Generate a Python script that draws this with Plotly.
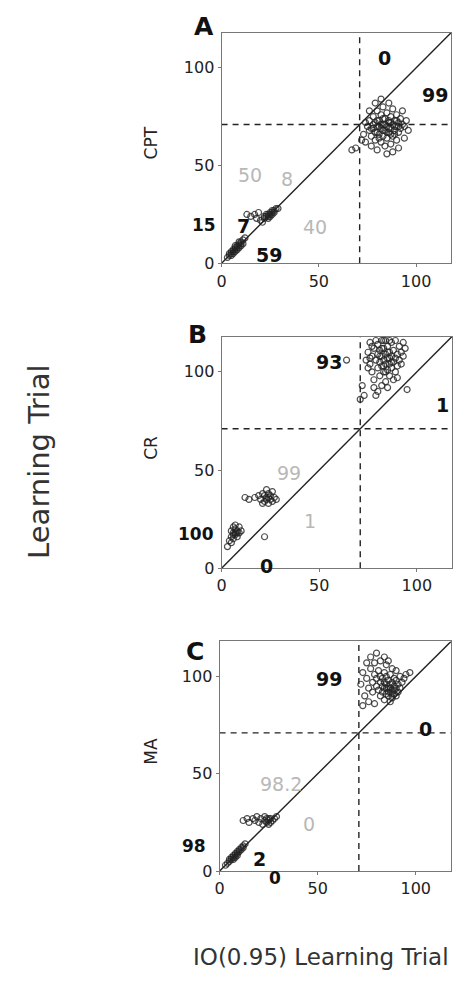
import plotly.graph_objects as go

# ---------------- data ----------------
AX_MAX = 118
THRESH = 71
tick_vals = [0, 50, 100]
tick_text = ["0", "50", "100"]

panel_letters = ["A", "B", "C"]
panel_ylabels = ["CPT", "CR", "MA"]

# Panel A (CPT)
a_big = [(73,66),(74,62),(75,70),(76,68),(76,73),(77,65),(77,60),(78,71),(78,75),(79,67),(79,63),(80,70),
         (80,78),(80,58),(81,73),(81,66),(82,69),(82,62),(82,76),(83,71),(83,65),(83,80),(84,68),(84,74),
         (84,60),(85,70),(85,77),(85,64),(86,72),(86,67),(86,82),(87,69),(87,75),(87,61),(88,71),(88,65),
         (88,79),(89,73),(89,68),(90,70),(90,76),(90,63),(91,72),(91,67),(92,74),(92,69),(93,71),(93,78),
         (94,70),(95,73),(96,68),(88,57),(91,59),(79,82),(82,84),(76,78),(74,72),(85,56),(72,63),(94,64),
         (86,73),(81,70),(83,68),(87,72),(89,66),(80,67),(84,71),(90,73),(78,69),(86,69),(67,58),(69,59),
         (77,69),(79,72),(81,64),(83,74),(85,67),(87,66),(89,70),(91,70),(80,73),(82,71)]
a_mid = [(20,22),(22,23),(23,24),(24,24),(25,25),(25,26),(26,26),(27,27),(28,28),(24,23),(26,25),(22,24),
         (21,21),(27,26),(29,28),(23,25),(18,23),(15,24),(17,25),(19,26),(13,25),(25,24),(26,27),(24,25)]
a_small = [(3,3),(4,4),(5,6),(6,5),(6,7),(7,7),(7,8),(8,8),(8,9),(9,9),(9,10),(10,10),(10,11),(11,12),
           (5,4),(7,6),(9,8),(12,13),(11,10),(8,7),(6,6),(10,9),(5,5),(7,9),(9,11),(4,5)]

# Panel B (CR)
b_big = [(75,110),(76,104),(76,115),(77,100),(77,108),(78,112),(78,96),(79,106),(79,116),(80,102),(80,109),
         (80,114),(81,98),(81,105),(81,111),(82,103),(82,108),(82,116),(83,100),(83,106),(83,112),(84,95),
         (84,104),(84,109),(84,116),(85,101),(85,107),(85,113),(86,98),(86,104),(86,110),(87,102),(87,108),
         (87,115),(88,96),(88,105),(88,111),(89,100),(89,107),(89,116),(90,103),(90,109),(91,106),(91,113),
         (92,104),(92,110),(93,108),(94,112),(78,92),(80,90),(82,93),(85,92),(79,88),(83,116),(86,116),
         (76,107),(75,102),(77,113),(93,115),(90,97),(74,106),(72,93),(73,88),(71,86),(64,106),(95,91),
         (81,108),(83,103),(85,110),(87,105),(84,100),(82,112),(86,107)]
b_mid = [(17,36),(19,37),(20,35),(21,38),(22,34),(22,37),(23,36),(24,33),(24,38),(25,35),(25,37),(26,34),
         (26,39),(27,36),(23,40),(21,33),(14,35),(12,36),(28,35),(23,35),(24,36)]
b_small = [(4,14),(5,16),(5,19),(6,15),(6,18),(6,21),(7,17),(7,20),(8,16),(8,19),(9,18),(9,21),(7,22),
           (10,19),(5,13),(3,11),(22,16),(6,17),(7,18),(8,18)]

# Panel C (MA)
c_big = [(72,96),(73,102),(74,90),(75,99),(75,107),(76,94),(77,104),(77,110),(78,97),(78,92),(79,101),
         (79,107),(80,95),(80,99),(80,112),(81,93),(81,103),(82,97),(82,100),(82,108),(83,92),(83,95),
         (83,99),(84,94),(84,97),(84,102),(85,91),(85,96),(85,100),(85,106),(86,90),(86,94),(86,98),(87,92),
         (87,96),(87,101),(88,89),(88,93),(88,97),(89,91),(89,95),(89,99),(90,90),(90,94),(90,98),(91,92),
         (91,96),(92,94),(92,100),(93,97),(94,99),(95,101),(88,104),(84,110),(86,108),(90,103),(82,90),
         (84,88),(87,87),(97,102),(76,87),(79,86),(73,85),(86,92),(88,91),(89,93),(87,94),(85,94)]
c_mid = [(12,26),(14,27),(15,25),(17,27),(18,26),(19,28),(20,25),(21,27),(22,24),(23,26),(24,25),(24,27),
         (25,26),(26,25),(26,27),(27,26),(28,27),(29,28),(25,24),(23,28),(25,27)]
c_small = [(4,4),(5,5),(6,6),(6,7),(7,7),(7,8),(8,8),(8,9),(9,9),(9,10),(10,10),(10,11),(11,11),(11,12),
           (12,12),(12,13),(5,6),(13,14),(8,7),(3,3),(7,6),(9,8)]

panel_points = [a_big + a_mid + a_small, b_big + b_mid + b_small, c_big + c_mid + c_small]

# count annotations: (text, x, y, dark?)
a_counts = [("0", 84, 105, True), ("99", 110, 86, True), ("50", 14.5, 45, False), ("8", 33.5, 43, False),
            ("40", 48, 18.5, False), ("7", 11.5, 19, True), ("59", 24.5, 4, True)]
b_counts = [("93", 55, 105, True), ("1", 113, 83, True), ("99", 34.5, 48.5, False), ("1", 45.5, 24, False),
            ("0", 23, 1, True)]
c_counts = [("99", 56, 98.5, True), ("0", 105, 73, True), ("98.2", 31.5, 44.5, False), ("0", 45.5, 24, False),
            ("2", 20.5, 6, True)]
panel_counts = [a_counts, b_counts, c_counts]

# counts printed just outside the axes: (text, x, y)
a_outside = [("15", 0, 19.5)]
b_outside = [("100", 0, 17.5)]
c_outside = [("98", 0, 13), ("0", 28, 0)]
panel_outside = [a_outside, b_outside, c_outside]

# ---------------- layout geometry / styling ----------------
W, H = 455, 986
boxes = [(219, 451, 33, 266), (219, 452, 340, 574), (217, 451, 648, 880)]  # px: left,right,top,bottom
letter_pos = [(201, 27), (195, 338), (192, 658)]
outside_shift = [[(-4, 0, "right")], [(-6, 0, "right")], [(-12, 0, "right"), (0, -7, "center")]]

fig = go.Figure()
FONT = "DejaVu Sans"
DASH = "6px,5px"

for i, (pts, counts) in enumerate(zip(panel_points, panel_counts)):
    xa = "x" if i == 0 else f"x{i+1}"
    ya = "y" if i == 0 else f"y{i+1}"
    fig.add_trace(go.Scatter(x=[0, AX_MAX], y=[0, AX_MAX], mode="lines",
                             line=dict(color="#222", width=1.4), xaxis=xa, yaxis=ya, showlegend=False,
                             hoverinfo="skip"))
    fig.add_trace(go.Scatter(x=[THRESH, THRESH], y=[0, AX_MAX], mode="lines",
                             line=dict(color="#222", width=1.4, dash=DASH), xaxis=xa, yaxis=ya,
                             showlegend=False, hoverinfo="skip"))
    fig.add_trace(go.Scatter(x=[0, AX_MAX], y=[THRESH, THRESH], mode="lines",
                             line=dict(color="#222", width=1.4, dash=DASH), xaxis=xa, yaxis=ya,
                             showlegend=False, hoverinfo="skip"))
    fig.add_trace(go.Scatter(x=[p[0] for p in pts], y=[p[1] for p in pts], mode="markers",
                             marker=dict(symbol="circle-open", size=6, color="rgba(35,35,35,0.8)",
                                         line=dict(width=1.2)),
                             xaxis=xa, yaxis=ya, showlegend=False))
    for txt, x, y, dark in counts:
        fig.add_annotation(x=x, y=y, xref=xa, yref=ya, text=f"<b>{txt}</b>" if dark else txt,
                           showarrow=False, xanchor="center", yanchor="middle",
                           font=dict(family=FONT, size=19 if dark else 19,
                                     color="#111" if dark else "#b8b8b8"))
    for (txt, x, y), (dx, dy, anc) in zip(panel_outside[i], outside_shift[i]):
        fig.add_annotation(x=x, y=y, xref=xa, yref=ya, text=f"<b>{txt}</b>", showarrow=False,
                           xanchor=anc, yanchor="middle", xshift=dx, yshift=dy,
                           font=dict(family=FONT, size=17, color="#111"))

    l, r, t, b = boxes[i]
    xdom = [l / W, r / W]
    ydom = [1 - b / H, 1 - t / H]
    axis_common = dict(range=[0, AX_MAX], tickvals=tick_vals, ticktext=tick_text, showgrid=False,
                       zeroline=False, showline=True, mirror=True, linecolor="#777", linewidth=1,
                       ticks="outside", ticklen=3, tickcolor="#777",
                       tickfont=dict(family=FONT, size=16, color="#222"))
    fig.layout[("xaxis" if i == 0 else f"xaxis{i+1}")] = dict(domain=xdom, anchor=ya, **axis_common)
    fig.layout[("yaxis" if i == 0 else f"yaxis{i+1}")] = dict(domain=ydom, anchor=xa, **axis_common)

    lx, ly = letter_pos[i]
    fig.add_annotation(x=lx / W, y=1 - ly / H, xref="paper", yref="paper",
                       text=f"<b>{panel_letters[i]}</b>", showarrow=False,
                       xanchor="center", yanchor="middle",
                       font=dict(family=FONT, size=25, color="#111"))
    fig.add_annotation(x=148 / W, y=1 - ((t + b) / 2 - 5) / H, xref="paper", yref="paper",
                       text=panel_ylabels[i], textangle=-90, showarrow=False,
                       xanchor="center", yanchor="middle",
                       font=dict(family=FONT, size=17, color="#222"))

fig.add_annotation(x=35 / W, y=1 - 467 / H, xref="paper", yref="paper", text="Learning Trial",
                   textangle=-90, showarrow=False, xanchor="center", yanchor="middle",
                   font=dict(family=FONT, size=29, color="#333"))
fig.add_annotation(x=320 / W, y=1 - 967 / H, xref="paper", yref="paper", text="IO(0.95) Learning Trial",
                   showarrow=False, xanchor="center", yanchor="middle",
                   font=dict(family=FONT, size=23, color="#333"))

fig.update_layout(width=W, height=H, margin=dict(l=0, r=0, t=0, b=0),
                  paper_bgcolor="white", plot_bgcolor="white")
fig.write_html("out.html")
